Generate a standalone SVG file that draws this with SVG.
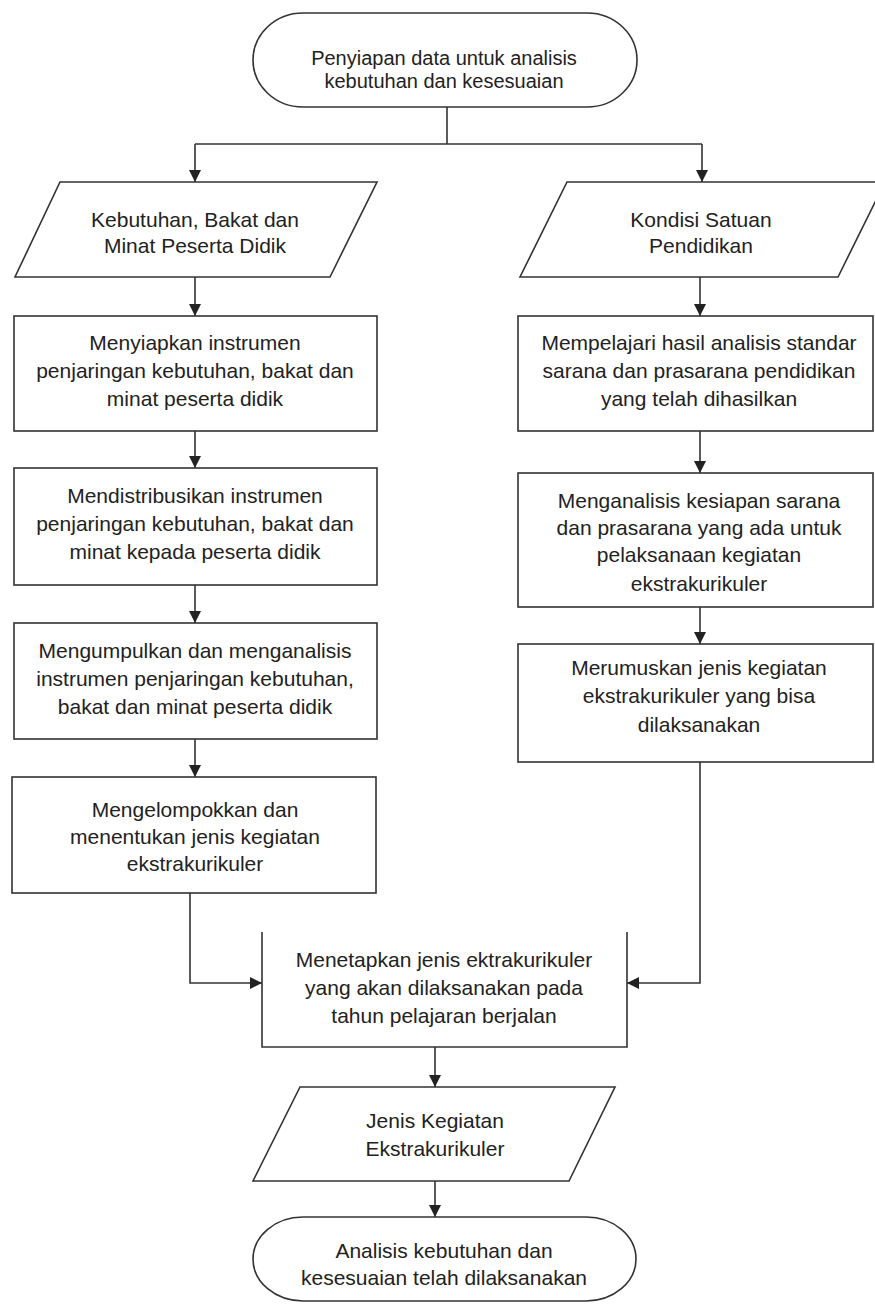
<svg xmlns="http://www.w3.org/2000/svg" width="875" height="1304" viewBox="0 0 875 1304">
<style>
.shape{fill:#fff;stroke:#333;stroke-width:1.6}
.conn{fill:none;stroke:#333;stroke-width:1.6}
text{font-family:"Liberation Sans",Arial,sans-serif;font-size:21px;fill:#222;text-anchor:middle}
.tight{font-size:20px}
</style>
<defs>
<marker id="ah" markerUnits="userSpaceOnUse" markerWidth="12" markerHeight="12" viewBox="0 0 12 12" refX="12" refY="6" orient="auto">
<path d="M0,0 L12,6 L0,12 Z" fill="#222"/>
</marker>
</defs>
<rect width="875" height="1304" fill="#fff"/>
<g id="connectors">
<path class="conn" d="M447,107 V144"/>
<path class="conn" d="M195,144 H702"/>
<path class="conn" d="M195,144 V182" marker-end="url(#ah)"/>
<path class="conn" d="M702,144 V182" marker-end="url(#ah)"/>
<path class="conn" d="M195,277 V316" marker-end="url(#ah)"/>
<path class="conn" d="M195,431 V468" marker-end="url(#ah)"/>
<path class="conn" d="M195,585 V623" marker-end="url(#ah)"/>
<path class="conn" d="M195,739 V777" marker-end="url(#ah)"/>
<path class="conn" d="M190,893 V983 H262" marker-end="url(#ah)"/>
<path class="conn" d="M700,277 V316" marker-end="url(#ah)"/>
<path class="conn" d="M700,431 V473" marker-end="url(#ah)"/>
<path class="conn" d="M700,607 V644" marker-end="url(#ah)"/>
<path class="conn" d="M700,762 V983 H627" marker-end="url(#ah)"/>
<path class="conn" d="M435,1047 V1087" marker-end="url(#ah)"/>
<path class="conn" d="M435,1181 V1217" marker-end="url(#ah)"/>
</g>
<g id="start">
<rect class="shape" x="253" y="13" width="384" height="94" rx="50" ry="47"/>
<text class="tight" x="444" y="65">Penyiapan data untuk analisis</text>
<text class="tight" x="444" y="88">kebutuhan dan kesesuaian</text>
</g>
<g id="input-left">
<polygon class="shape" points="60,182 377,182 330,277 15,277"/>
<text x="195" y="227">Kebutuhan, Bakat dan</text>
<text x="195" y="253">Minat Peserta Didik</text>
</g>
<g id="input-right">
<polygon class="shape" points="567,182 885,182 838,277 520,277"/>
<text x="701" y="227">Kondisi Satuan</text>
<text x="701" y="253">Pendidikan</text>
</g>
<g id="left-1">
<rect class="shape" x="14" y="316" width="363" height="115"/>
<text x="195" y="350">Menyiapkan instrumen</text>
<text x="195" y="378">penjaringan kebutuhan, bakat dan</text>
<text x="195" y="406">minat peserta didik</text>
</g>
<g id="left-2">
<rect class="shape" x="14" y="468" width="363" height="117"/>
<text x="195" y="503">Mendistribusikan instrumen</text>
<text x="195" y="531">penjaringan kebutuhan, bakat dan</text>
<text x="195" y="559">minat kepada peserta didik</text>
</g>
<g id="left-3">
<rect class="shape" x="14" y="623" width="363" height="116"/>
<text x="195" y="658">Mengumpulkan dan menganalisis</text>
<text x="195" y="686">instrumen penjaringan kebutuhan,</text>
<text x="195" y="714">bakat dan minat peserta didik</text>
</g>
<g id="left-4">
<rect class="shape" x="12" y="777" width="364" height="116"/>
<text x="195" y="817">Mengelompokkan dan</text>
<text x="195" y="844">menentukan jenis kegiatan</text>
<text x="195" y="871">ekstrakurikuler</text>
</g>
<g id="right-1">
<rect class="shape" x="518" y="316" width="355" height="115"/>
<text x="699" y="350">Mempelajari hasil analisis standar</text>
<text x="699" y="378">sarana dan prasarana pendidikan</text>
<text x="699" y="406">yang telah dihasilkan</text>
</g>
<g id="right-2">
<rect class="shape" x="518" y="473" width="355" height="134"/>
<text x="699" y="508">Menganalisis kesiapan sarana</text>
<text x="699" y="535">dan prasarana yang ada untuk</text>
<text x="699" y="562">pelaksanaan kegiatan</text>
<text x="699" y="591">ekstrakurikuler</text>
</g>
<g id="right-3">
<rect class="shape" x="518" y="644" width="355" height="118"/>
<text x="699" y="675">Merumuskan jenis kegiatan</text>
<text x="699" y="703">ekstrakurikuler yang bisa</text>
<text x="699" y="732">dilaksanakan</text>
</g>
<g id="decide">
<path class="shape" d="M262,932 V1047 H627 V932"/>
<text x="444" y="967">Menetapkan jenis ektrakurikuler</text>
<text x="444" y="995">yang akan dilaksanakan pada</text>
<text x="444" y="1023">tahun pelajaran berjalan</text>
</g>
<g id="output">
<polygon class="shape" points="300,1087 615,1087 569,1181 253,1181"/>
<text x="435" y="1128">Jenis Kegiatan</text>
<text x="435" y="1156">Ekstrakurikuler</text>
</g>
<g id="end">
<rect class="shape" x="253" y="1217" width="383" height="84" rx="50" ry="42"/>
<text x="444" y="1258">Analisis kebutuhan dan</text>
<text x="444" y="1285">kesesuaian telah dilaksanakan</text>
</g>
</svg>
